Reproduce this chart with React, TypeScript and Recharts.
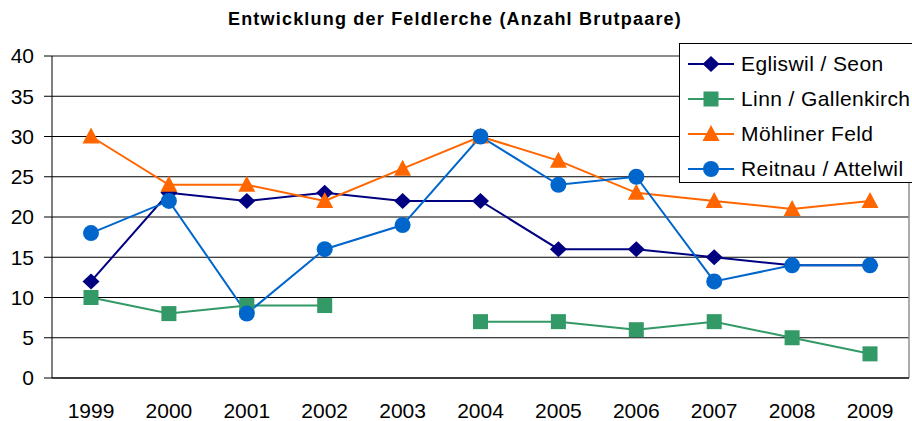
import React from 'react';
import { LineChart, Line, XAxis, YAxis, CartesianGrid, ReferenceLine, Legend } from 'recharts';

const years = ['1999', '2000', '2001', '2002', '2003', '2004', '2005', '2006', '2007', '2008', '2009'];
const egliswil = [12, 23, 22, 23, 22, 22, 16, 16, 15, 14, 14];
const linn = [10, 8, 9, 9, null, 7, 7, 6, 7, 5, 3];
const moehliner = [30, 24, 24, 22, 26, 30, 27, 23, 22, 21, 22];
const reitnau = [18, 22, 8, 16, 19, 30, 24, 25, 12, 14, 14];
const yTicks = [0, 5, 10, 15, 20, 25, 30, 35, 40];
const bandTicks = [0, 1, 2, 3, 4, 5, 6, 7, 8, 9, 10, 11];

const series = [
  { key: 'egliswil', name: 'Egliswil / Seon', color: '#000080', shape: 'diamond' },
  { key: 'linn', name: 'Linn / Gallenkirch', color: '#339966', shape: 'square' },
  { key: 'moehliner', name: 'Möhliner Feld', color: '#FF6600', shape: 'triangle' },
  { key: 'reitnau', name: 'Reitnau / Attelwil', color: '#0066CC', shape: 'circle' },
];

const data = years.map((year, i) => ({
  year,
  egliswil: egliswil[i],
  linn: linn[i],
  moehliner: moehliner[i],
  reitnau: reitnau[i],
}));

const FONT = '"Liberation Sans", Arial, sans-serif';

const Marker = ({ shape, color, cx, cy }: { shape: string; color: string; cx: number; cy: number }) => {
  if (shape === 'diamond') {
    return <polygon points={`${cx},${cy - 8} ${cx + 8.5},${cy} ${cx},${cy + 8} ${cx - 8.5},${cy}`} fill={color} />;
  }
  if (shape === 'square') {
    return <rect x={cx - 7.5} y={cy - 7.5} width={15} height={15} fill={color} />;
  }
  if (shape === 'triangle') {
    return <polygon points={`${cx},${cy - 9} ${cx + 8.5},${cy + 7} ${cx - 8.5},${cy + 7}`} fill={color} />;
  }
  return <circle cx={cx} cy={cy} r={8} fill={color} />;
};

const makeDot = (shape: string, color: string) => (props: any) => {
  const { cx, cy, index, value } = props;
  if (cx == null || cy == null || value == null || Number.isNaN(cy)) return <g key={index} />;
  return (
    <g key={index}>
      <Marker shape={shape} color={color} cx={cx} cy={cy} />
    </g>
  );
};

const renderLegend = () => (
  <div
    style={{
      border: '1px solid #000',
      background: '#fff',
      width: 240,
      height: 140,
      boxSizing: 'border-box',
      paddingTop: 2,
      fontFamily: FONT,
      fontSize: 21,
      letterSpacing: 0.4,
    }}
  >
    {series.map((s) => (
      <div key={s.key} style={{ display: 'flex', alignItems: 'center', height: 35 }}>
        <svg width={60} height={20} style={{ marginLeft: 6 }}>
          <line x1={2} y1={10} x2={48} y2={10} stroke={s.color} strokeWidth={2} />
          <Marker shape={s.shape} color={s.color} cx={25} cy={10} />
        </svg>
        <span style={{ marginLeft: -5, whiteSpace: 'nowrap', color: '#000' }}>{s.name}</span>
      </div>
    ))}
  </div>
);

export default function App() {
  return (
    <div style={{ position: 'absolute', left: 0, top: 0, width: 912, height: 421, overflow: 'hidden', background: '#fff' }}>
      <div
        style={{
          position: 'absolute',
          left: -1,
          top: 9,
          width: 912,
          textAlign: 'center',
          fontFamily: FONT,
          fontWeight: 'bold',
          fontSize: 18,
          letterSpacing: 1.2,
          color: '#000',
        }}
      >
        Entwicklung der Feldlerche (Anzahl Brutpaare)
      </div>
      <LineChart width={912} height={421} data={data} margin={{ top: 56, right: 3, bottom: 0, left: 0 }}>
        <CartesianGrid horizontal vertical={false} stroke="#000" strokeWidth={1} />
        <XAxis
          xAxisId="band"
          type="number"
          dataKey={() => 0}
          domain={[0, 11]}
          ticks={bandTicks}
          tick={false}
          tickSize={8}
          height={8}
          stroke="#000"
        />
        <XAxis
          xAxisId="cat"
          dataKey="year"
          padding={{ left: 39, right: 39 }}
          axisLine={false}
          tickLine={false}
          height={35}
          tickMargin={11}
          tick={{ fontSize: 21, fill: '#000', fontFamily: FONT }}
          interval={0}
        />
        <YAxis
          domain={[0, 40]}
          ticks={yTicks}
          width={52}
          tickSize={8}
          tickMargin={10}
          stroke="#000"
          tick={{ fontSize: 21, fill: '#000', fontFamily: FONT }}
          interval={0}
        />
        <ReferenceLine y={40} xAxisId="cat" stroke="#909090" strokeWidth={1.5} />
        <ReferenceLine x={11} xAxisId="band" stroke="#909090" strokeWidth={1.5} />
        {series.map((s) => (
          <Line
            key={s.key}
            xAxisId="cat"
            type="linear"
            dataKey={s.key}
            name={s.name}
            stroke={s.color}
            strokeWidth={2}
            dot={makeDot(s.shape, s.color)}
            activeDot={false}
            isAnimationActive={false}
          />
        ))}
        <Legend
          layout="horizontal"
          verticalAlign="middle"
          align="center"
          content={renderLegend}
          wrapperStyle={{ position: 'absolute', left: 679, top: 43, width: 240, height: 140 }}
        />
      </LineChart>
    </div>
  );
}
